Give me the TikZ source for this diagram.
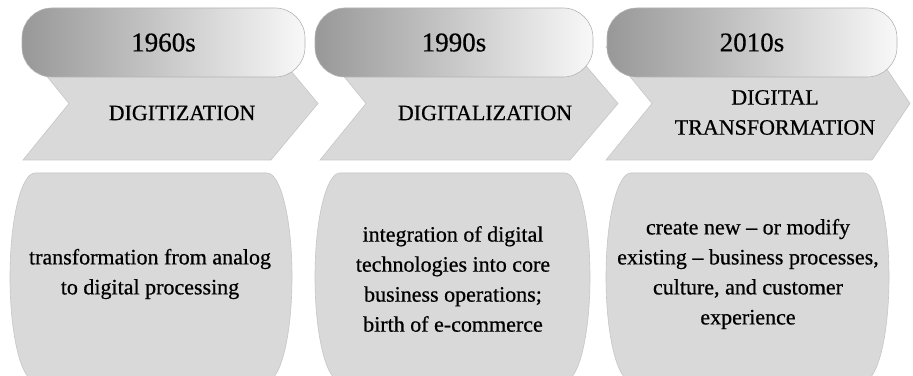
\documentclass[tikz,border=0pt]{standalone}
\usepackage{fontspec}
\setmainfont{Liberation Serif}
\definecolor{colBande}{RGB}{217,217,217}
\definecolor{colBord}{RGB}{198,198,198}
\definecolor{colOnglet}{RGB}{152,152,152}
\definecolor{colClair}{RGB}{248,248,248}
\definecolor{colOngletBord}{RGB}{130,130,130}

\begin{document}
\begin{tikzpicture}[x=1pt, y=1pt,
    font=\fontsize{22}{30}\selectfont\addfontfeature{FakeBold=0.6},
    onglet/.style={rectangle, rounded corners=30pt, minimum height=69pt,
      inner sep=0pt, left color=colOnglet, right color=colClair,
      draw=colOngletBord!60, line width=0.6pt,
      font=\fontsize{27}{30}\selectfont\addfontfeature{FakeBold=0.6}},
    fleche/.style={fill=colBande, draw=colBord, line width=0.6pt},
    cadre/.style={fill=colBande, draw=colBord, line width=0.6pt},
    titre/.style={align=center, inner sep=0pt},
    texte/.style={align=center, inner sep=0pt}]
  \clip (0,0) rectangle (913,375);
  \fill[white] (0,0) rectangle (913,375);
  % chevrons
  \draw[fleche] (23,328) -- (271,328) -- (318,271.5) -- (271,215)
    -- (23,215) -- (69,271.5) -- cycle;
  \draw[fleche] (320,328) -- (570,328) -- (618,271.5) -- (570,215)
    -- (320,215) -- (366,271.5) -- cycle;
  \draw[fleche] (606,328) -- (872,328) -- (910,271.5) -- (872,215)
    -- (606,215) -- (652,271.5) -- cycle;
  % onglets
  \node[onglet, minimum width=283pt] (an1) at (163.5,332.5) {1960s};
  \node[onglet, minimum width=278pt] (an2) at (454,332.5) {1990s};
  \node[onglet, minimum width=290pt] (an3) at (752,332.5) {2010s};
  % cadres
  \draw[cadre] (35,202) -- (267,202)
    arc[start angle=90, end angle=-90, x radius=25, y radius=104]
    -- (35,-6) arc[start angle=270, end angle=90, x radius=25, y radius=104];
  \draw[cadre] (340,202) -- (565,202)
    arc[start angle=90, end angle=-90, x radius=25, y radius=104]
    -- (340,-6) arc[start angle=270, end angle=90, x radius=25, y radius=104];
  \draw[cadre] (631,202) -- (864,202)
    arc[start angle=90, end angle=-90, x radius=25, y radius=104]
    -- (631,-6) arc[start angle=270, end angle=90, x radius=25, y radius=104];
  % textes
  \node[titre] (ti1) at (182,262) {DIGITIZATION};
  \node[titre] (ti2) at (485,262) {DIGITALIZATION};
  \node[titre] (ti3) at (775,262.5) {DIGITAL\\ TRANSFORMATION};
  \node[texte] (tx1) at (150,101)
    {transformation from analog\\ to digital processing};
  \node[texte] (tx2) at (453,96)
    {integration of digital\\ technologies into core\\
     business operations;\\ birth of e-commerce};
  \node[texte] (tx3) at (748,101)
    {create new -- or modify\\ existing -- business processes,\\
     culture, and customer\\ experience};
\end{tikzpicture}
\end{document}
